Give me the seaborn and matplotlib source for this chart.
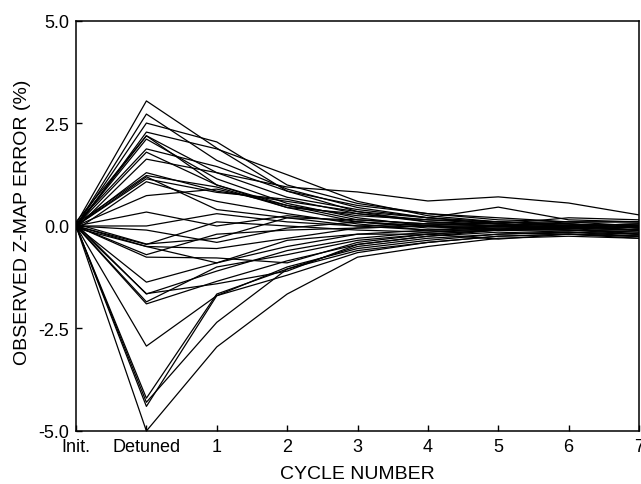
import matplotlib
matplotlib.use("Agg")
import matplotlib.pyplot as plt
import pandas as pd
import seaborn as sns

# x positions: Init., Detuned, then cycles 1..7
x_labels = ["Init.", "Detuned", "1", "2", "3", "4", "5", "6", "7"]
y_ticks = [-5.0, -2.5, 0.0, 2.5, 5.0]

# runs that were detuned upward
runs_above = [
    [0.05, 3.05, 1.90, 0.85, 0.35, 0.10, 0.00, -0.05, -0.10],
    [0.00, 2.73, 1.60, 0.90, 0.45, 0.20, 0.05, 0.00, 0.05],
    [0.00, 2.51, 2.05, 1.00, 0.55, 0.30, 0.15, 0.10, 0.00],
    [-0.05, 2.29, 1.88, 1.25, 0.60, 0.25, 0.10, 0.05, -0.05],
    [0.10, 2.20, 1.30, 0.70, 0.40, 0.20, 0.10, 0.00, -0.10],
    [0.00, 2.12, 1.15, 0.55, 0.20, 0.00, -0.10, -0.10, -0.15],
    [0.00, 2.20, 1.00, 0.45, 0.30, 0.15, 0.10, 0.05, 0.00],
    [0.05, 1.88, 1.45, 0.85, 0.50, 0.30, 0.20, 0.10, 0.10],
    [0.00, 1.80, 1.00, 0.50, 0.15, 0.05, 0.00, -0.05, 0.00],
    [-0.05, 1.63, 1.30, 0.95, 0.83, 0.61, 0.71, 0.56, 0.27],
    [0.00, 1.30, 0.85, 0.60, 0.35, 0.20, 0.46, 0.15, 0.10],
    [0.05, 1.23, 0.95, 0.45, 0.10, -0.05, 0.00, 0.05, -0.05],
    [0.00, 1.20, 0.40, 0.20, 0.00, -0.10, -0.05, -0.10, -0.10],
    [0.00, 1.15, 0.82, 0.65, 0.30, 0.10, 0.05, 0.20, 0.15],
    [-0.10, 1.08, 0.60, 0.30, 0.05, -0.10, -0.10, -0.05, -0.20],
    [0.00, 0.74, 0.90, 0.50, 0.25, 0.15, 0.05, 0.00, 0.05],
    [0.00, 0.34, 0.00, 0.25, 0.10, 0.00, -0.05, 0.00, -0.10],
]

# runs that stayed close to zero after detuning
runs_near_zero = [
    [0.00, 0.00, 0.30, 0.10, 0.00, 0.05, 0.05, -0.05, 0.00],
    [0.00, -0.10, -0.40, -0.05, 0.10, 0.00, -0.10, 0.00, -0.05],
    [0.05, -0.44, -0.30, 0.20, 0.15, 0.05, 0.00, -0.10, -0.15],
    [0.00, -0.45, 0.10, 0.00, -0.10, -0.15, -0.10, 0.00, 0.05],
    [-0.05, -0.50, -0.55, -0.30, -0.05, 0.00, 0.10, 0.05, -0.05],
    [0.00, -0.50, -0.90, -0.35, -0.20, -0.20, -0.10, -0.05, 0.00],
    [0.00, -0.76, -0.78, -0.90, -0.40, -0.20, -0.32, -0.20, -0.25],
    [0.00, -0.70, -0.20, -0.10, -0.05, 0.00, 0.00, 0.10, 0.10],
]

# runs that were detuned downward
runs_below = [
    [0.00, -1.37, -0.90, -0.50, -0.20, -0.10, 0.00, -0.05, -0.10],
    [0.05, -1.66, -1.10, -0.60, -0.30, -0.15, -0.05, -0.10, -0.20],
    [0.00, -1.65, -1.41, -1.10, -0.45, -0.25, -0.10, 0.00, -0.10],
    [0.00, -1.90, -1.35, -0.85, -0.45, -0.25, -0.15, -0.20, -0.30],
    [0.00, -1.85, -1.00, -0.70, -0.35, -0.20, -0.10, -0.15, -0.25],
    [0.00, -2.93, -1.70, -1.00, -0.55, -0.35, -0.20, -0.15, -0.20],
    [0.00, -4.20, -1.66, -1.05, -0.50, -0.30, -0.20, -0.15, -0.20],
    [0.00, -4.30, -2.35, -1.05, -0.60, -0.40, -0.25, -0.20, -0.25],
    [0.00, -4.40, -1.70, -1.20, -0.65, -0.40, -0.25, -0.20, -0.25],
    [0.00, -5.00, -2.95, -1.66, -0.76, -0.50, -0.30, -0.25, -0.30],
]

rows = []
for run_id, run in enumerate(runs_above + runs_near_zero + runs_below):
    for step, val in enumerate(run):
        rows.append((step, run_id, val))
df = pd.DataFrame(rows, columns=["step", "run", "error"])

sns.set_style("ticks")
plt.rcParams["font.family"] = ["Liberation Sans", "DejaVu Sans"]

fig = plt.figure(figsize=(6.41, 4.85), dpi=100)
ax = fig.add_axes([0.1186, 0.1093, 0.8783, 0.8454])

sns.lineplot(data=df, x="step", y="error", units="run", estimator=None,
             color="black", linewidth=0.9, ax=ax, legend=False)

ax.set_xlim(0, len(x_labels) - 1)
ax.set_ylim(-5, 5)
ax.set_xticks(range(len(x_labels)))
ax.set_xticklabels(x_labels)
ax.set_yticks(y_ticks)
ax.set_yticklabels([f"{v:.1f}" for v in y_ticks])
ax.tick_params(direction="in", length=4, width=1, labelsize=13, pad=5,
               colors="black")

for sp in ax.spines.values():
    sp.set_linewidth(1.1)
    sp.set_color("black")

ax.set_xlabel("CYCLE NUMBER", fontsize=14, color="black")
ax.set_ylabel("OBSERVED Z-MAP ERROR (%)", fontsize=14, color="black")
ax.xaxis.set_label_coords(0.5, -0.083)
ax.yaxis.set_label_coords(-0.08, 0.512)

fig.savefig("out.png", dpi=100)
